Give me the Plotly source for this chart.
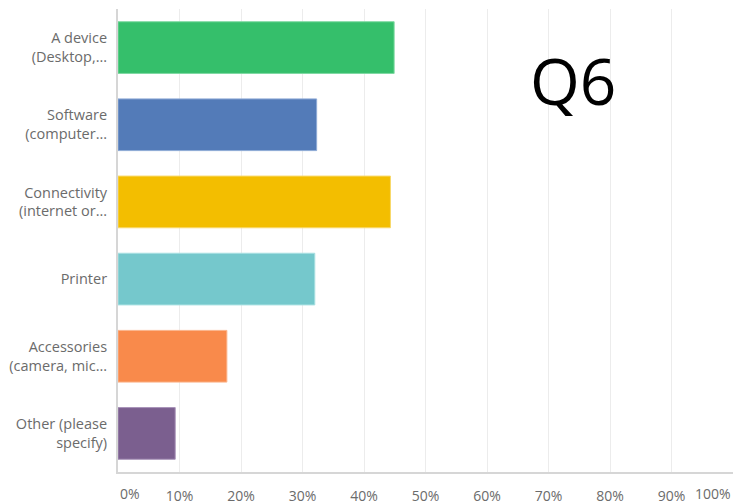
import plotly.graph_objects as go

# Survey question 6: share of respondents choosing each option
categories = [
    "A device<br>(Desktop,...",
    "Software<br>(computer...",
    "Connectivity<br>(internet or...",
    "Printer",
    "Accessories<br>(camera, mic...",
    "Other (please<br>specify)",
]
percent = [44.9, 32.3, 44.3, 32.0, 17.7, 9.3]
bar_colors = ["#35bf6b", "#537bb8", "#f3be00", "#75c8cc", "#f98a4b", "#7b5f8f"]
edge_colors = ["#7fd9a2", "#8eaad6", "#f8d86a", "#a9e0e2", "#fbb48c", "#a893b8"]
tick_values = [10, 20, 30, 40, 50, 60, 70, 80, 90]
tick_labels = [f"{v}%" for v in tick_values]

fig = go.Figure(
    go.Bar(
        x=percent,
        y=categories,
        orientation="h",
        marker=dict(color=bar_colors, line=dict(color=edge_colors, width=1)),
        hoverinfo="skip",
    )
)

label_font = dict(family="Open Sans", size=14, color="#6b6b6b")
cat_font = dict(family="Open Sans", size=14.5, color="#6b6b6b")

fig.update_layout(
    width=733,
    height=504,
    margin=dict(l=118, r=0, t=9, b=32, autoexpand=False),
    paper_bgcolor="white",
    plot_bgcolor="white",
    bargap=0.33,
    showlegend=False,
    xaxis=dict(
        range=[0, 100],
        tickvals=tick_values,
        ticktext=tick_labels,
        tickfont=label_font,
        ticklabelstandoff=10,
        showgrid=True,
        gridcolor="#ececec",
        gridwidth=1,
        zeroline=False,
        showline=True,
        linecolor="#d6d6d6",
        linewidth=2,
        fixedrange=True,
        automargin=False,
    ),
    yaxis=dict(
        autorange="reversed",
        tickfont=cat_font,
        ticklabelstandoff=6,
        showgrid=False,
        zeroline=False,
        showline=True,
        linecolor="#d6d6d6",
        linewidth=2,
        fixedrange=True,
        automargin=False,
    ),
)

# End labels of the percentage axis, kept inside the figure edges
for val, anchor in [(0, "left"), (100, "right")]:
    fig.add_annotation(
        x=val, xref="x", y=0, yref="y domain", yanchor="middle", yshift=-21,
        text=f"{val}%", showarrow=False, xanchor=anchor, font=label_font,
    )

fig.add_annotation(
    x=74, xref="x", y=0.845, yref="paper", yanchor="middle",
    text="Q6", showarrow=False, font=dict(family="Open Sans", size=64, color="#000000"),
)

fig.write_html("out.html")
